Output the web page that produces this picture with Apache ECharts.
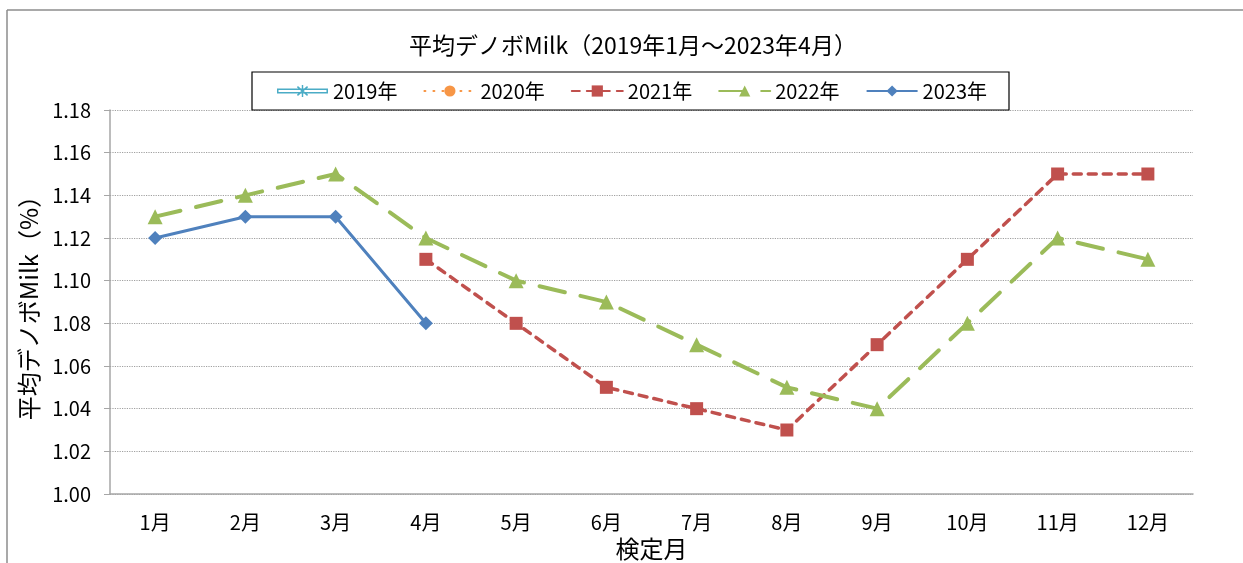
<!DOCTYPE html>
<html>
<head>
<meta charset="utf-8">
<script src="https://cdn.jsdelivr.net/npm/echarts@6/dist/echarts.min.js"></script>
<style>
html, body { margin: 0; padding: 0; background: #fff; }
#main { width: 1243px; height: 563px; }
</style>
</head>
<body>
<div id="main"></div>
<script>
// data
var months = ['1月', '2月', '3月', '4月', '5月', '6月', '7月', '8月', '9月', '10月', '11月', '12月'];
var y2019 = [null, null, null, null, null, null, null, null, null, null, null, null];
var y2020 = [null, null, null, null, null, null, null, null, null, null, null, null];
var y2021 = [null, null, null, 1.11, 1.08, 1.05, 1.04, 1.03, 1.07, 1.11, 1.15, 1.15];
var y2022 = [1.13, 1.14, 1.15, 1.12, 1.10, 1.09, 1.07, 1.05, 1.04, 1.08, 1.12, 1.11];
var y2023 = [1.12, 1.13, 1.13, 1.08];
var yTicks = { min: 1.0, max: 1.18, step: 0.02 };

var font = '"Noto Sans CJK JP", sans-serif';
var asterisk = 'path://M4.4,0 L5.6,0 L5.6,10 L4.4,10 Z M0.3,1.8 L1,0.8 L9.7,8.2 L9,9.2 Z M0.3,8.2 L9,0.8 L9.7,1.8 L1,9.2 Z';
// hollow double line with an asterisk, for the 2019 legend entry
var hollowIcon = 'path://M0,3.5 L50,3.5 L50,8.5 L0,8.5 Z M1.5,5 L1.5,7 L48.5,7 L48.5,5 Z ' +
    'M24.3,0 L25.7,0 L25.7,12 L24.3,12 Z M19.5,2.3 L20.5,1.2 L30.5,9.7 L29.5,10.8 Z M19.5,9.7 L29.5,1.2 L30.5,2.3 L20.5,10.8 Z';

var myChart = echarts.init(document.getElementById('main'));
var option = {
    backgroundColor: '#fff',
    textStyle: { fontFamily: font },
    title: {
        text: '平均デノボMilk（2019年1月～2023年4月）',
        left: 404,
        top: 29,
        textStyle: { fontFamily: font, fontSize: 23, fontWeight: 'normal', color: '#000' }
    },
    legend: {
        left: 252,
        top: 72,
        borderColor: '#000',
        borderWidth: 1.2,
        padding: [9, 22, 9, 25],
        itemWidth: 51,
        itemHeight: 14,
        itemGap: 26,
        textStyle: { fontFamily: font, fontSize: 20, color: '#000' },
        data: [
            { name: '2019年', icon: hollowIcon },
            '2020年', '2021年', '2022年', '2023年'
        ]
    },
    grid: {
        left: 110,
        right: 50,
        top: 110,
        bottom: 69,
        outerBoundsMode: 'none'
    },
    graphic: [
        { type: 'line', shape: { x1: 7, y1: 10, x2: 1243, y2: 10 }, style: { stroke: '#8c8c8c', lineWidth: 1.5 } },
        { type: 'line', shape: { x1: 7, y1: 10, x2: 7, y2: 563 }, style: { stroke: '#8c8c8c', lineWidth: 1.5 } }
    ],
    xAxis: {
        type: 'category',
        data: months,
        name: '検定月',
        nameLocation: 'middle',
        nameGap: 42,
        nameTextStyle: { fontFamily: font, fontSize: 24, color: '#000' },
        axisLine: { lineStyle: { color: '#a6a6a6', width: 1.5 } },
        axisTick: { length: 6, lineStyle: { color: '#a6a6a6' } },
        axisLabel: { margin: 18, fontFamily: font, fontSize: 20, color: '#000' }
    },
    yAxis: {
        type: 'value',
        min: yTicks.min,
        max: yTicks.max,
        interval: yTicks.step,
        name: '平均デノボMilk（%）',
        nameLocation: 'middle',
        nameRotate: 90,
        nameGap: 68,
        nameTextStyle: { fontFamily: font, fontSize: 24, color: '#000' },
        axisLine: { show: true, lineStyle: { color: '#a6a6a6', width: 1.5 } },
        axisTick: { show: true, length: 6, lineStyle: { color: '#a6a6a6' } },
        axisLabel: {
            margin: 19,
            fontFamily: font,
            fontSize: 20,
            color: '#000',
            formatter: function (v) { return v.toFixed(2); }
        },
        splitLine: { lineStyle: { type: 'dotted', color: '#a0a0a0', width: 1.2 } }
    },
    series: [
        {
            name: '2019年', type: 'line', data: y2019,
            symbol: asterisk, symbolSize: 11,
            itemStyle: { color: '#4bacc6' },
            lineStyle: { color: '#4bacc6', width: 3 }
        },
        {
            name: '2020年', type: 'line', data: y2020,
            symbol: 'circle', symbolSize: 9,
            itemStyle: { color: '#f79646' },
            lineStyle: { color: '#f79646', width: 3, type: [1, 8], cap: 'round' }
        },
        {
            name: '2021年', type: 'line', data: y2021,
            symbol: 'rect', symbolSize: 13,
            itemStyle: { color: '#c0504d' },
            lineStyle: { color: '#c0504d', width: 3.5, type: [8, 7], cap: 'round' }
        },
        {
            name: '2022年', type: 'line', data: y2022,
            symbol: 'triangle', symbolSize: 15,
            itemStyle: { color: '#9bbb59' },
            lineStyle: { color: '#9bbb59', width: 4, type: [26, 16], cap: 'round' }
        },
        {
            name: '2023年', type: 'line', data: y2023,
            symbol: 'diamond', symbolSize: 14,
            itemStyle: { color: '#4f81bd' },
            lineStyle: { color: '#4f81bd', width: 3 }
        }
    ]
};
myChart.setOption(option);
</script>
</body>
</html>
